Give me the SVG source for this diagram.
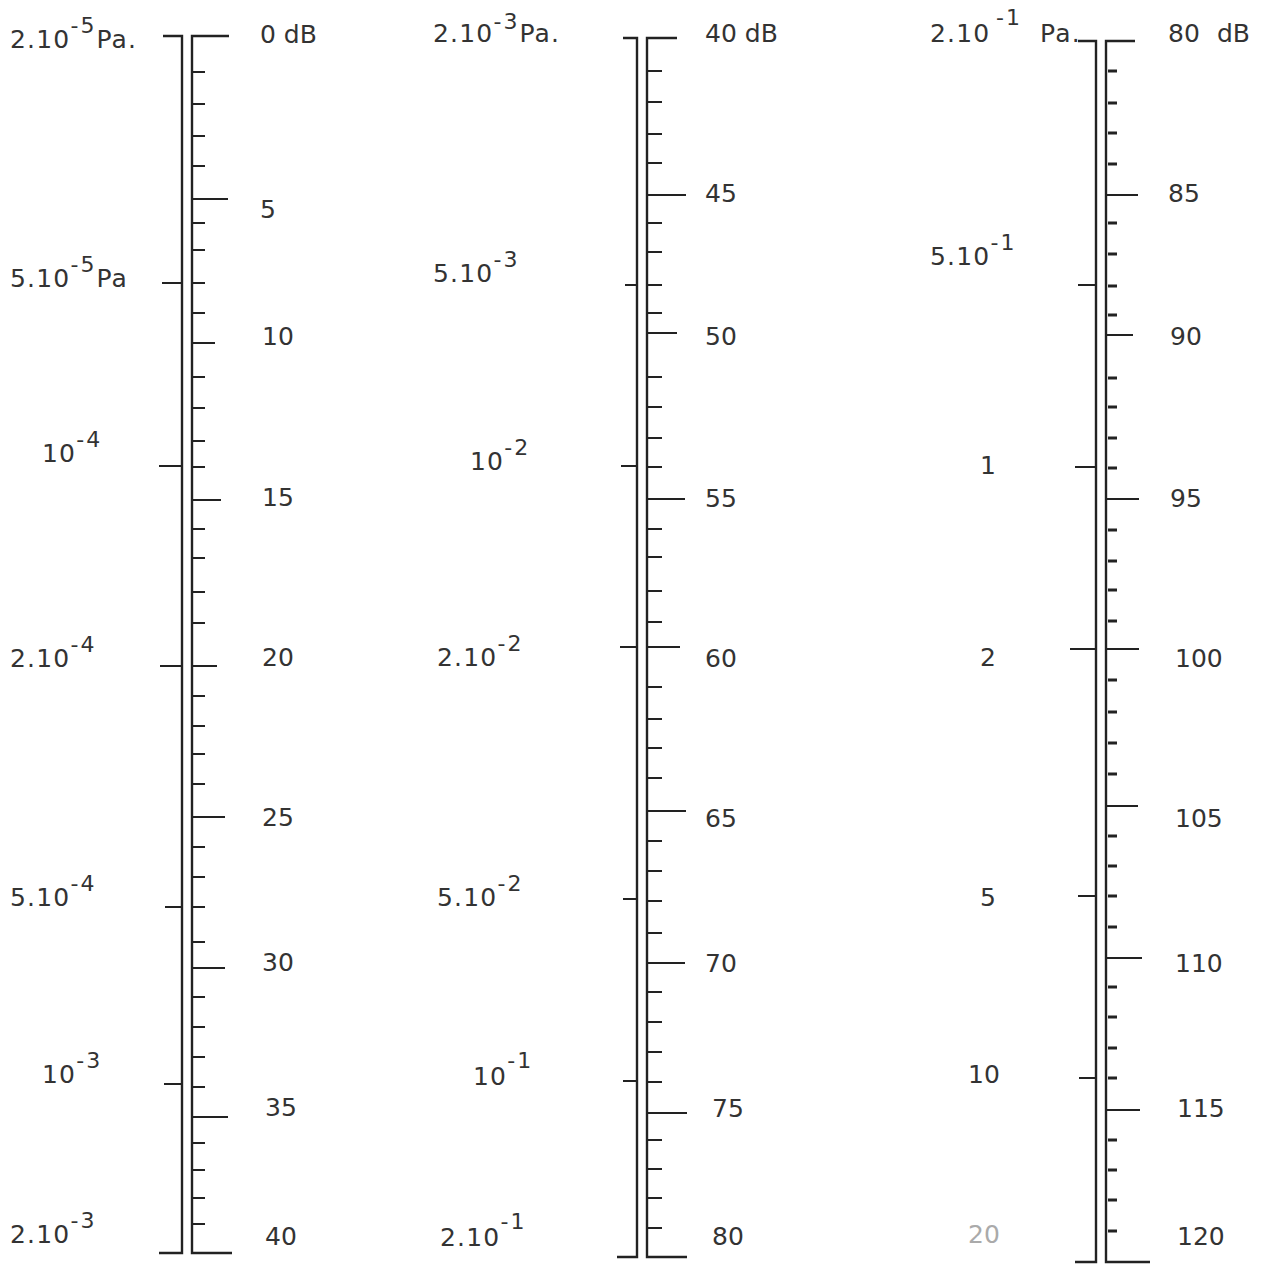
<svg xmlns="http://www.w3.org/2000/svg" width="1263" height="1264" viewBox="0 0 1263 1264">
<style>
.frame{fill:none;stroke:#222;stroke-width:2.4;stroke-linejoin:miter}
.tick{fill:none;stroke:#222;stroke-width:2}
.dash{fill:none;stroke:#222;stroke-width:3}
text{font-family:"DejaVu Sans","Liberation Sans",sans-serif;font-size:25px;fill:#333}
.pa{letter-spacing:1.2px}
.sup{font-size:22px;letter-spacing:2px}
.faint{fill:#aaa}
</style>
<rect width="1263" height="1264" fill="#fff"/>

<g id="scale-1">
<path class="frame" d="M163 36H182V1253H159M229 36H192V1253H232"/>
<path class="tick" d="M192 199H228M192 343H215M192 500H221M192 666H217M192 817H225M192 968H225M192 1117H228"/>
<path class="tick" d="M162 283H182M159 466H182M160 666H182M165 907H182M164 1084H182"/>
<path class="tick" d="M192 72H205M192 104H205M192 136H205M192 166H205M192 223H205M192 250H205M192 283H205M192 313H205M192 377H205M192 408H205M192 441H205M192 467H205M192 529H205M192 558H205M192 592H205M192 623H205M192 696H205M192 726H205M192 754H205M192 784H205M192 847H205M192 877H205M192 907H205M192 942H205M192 997H205M192 1027H205M192 1057H205M192 1087H205M192 1143H205M192 1170H205M192 1198H205M192 1224H205"/>
<text class="pa" x="10" y="48">2.10<tspan class="sup" dy="-15">-5</tspan><tspan dy="15">Pa.</tspan></text>
<text class="pa" x="10" y="287">5.10<tspan class="sup" dy="-15">-5</tspan><tspan dy="15">Pa</tspan></text>
<text class="pa" x="42" y="462">10<tspan class="sup" dy="-15">-4</tspan></text>
<text class="pa" x="10" y="667">2.10<tspan class="sup" dy="-15">-4</tspan></text>
<text class="pa" x="10" y="906">5.10<tspan class="sup" dy="-15">-4</tspan></text>
<text class="pa" x="42" y="1083">10<tspan class="sup" dy="-15">-3</tspan></text>
<text class="pa" x="10" y="1243">2.10<tspan class="sup" dy="-15">-3</tspan></text>
<text x="260" y="43">0 dB</text>
<text x="260" y="218">5</text>
<text x="262" y="345">10</text>
<text x="262" y="506">15</text>
<text x="262" y="666">20</text>
<text x="262" y="826">25</text>
<text x="262" y="971">30</text>
<text x="265" y="1116">35</text>
<text x="265" y="1245">40</text>
</g>

<g id="scale-2">
<path class="frame" d="M623 38H637V1257H617M677 38H647V1257H687"/>
<path class="tick" d="M647 195H686M647 333H677M647 499H685M647 647H680M647 811H686M647 963H685M647 1113H687"/>
<path class="tick" d="M625 285H637M621 466H637M620 647H637M623 899H637M623 1081H637"/>
<path class="tick" d="M647 71H662M647 102H662M647 134H662M647 163H662M647 223H662M647 252H662M647 285H662M647 313H662M647 377H662M647 407H662M647 438H662M647 467H662M647 529H662M647 557H662M647 591H662M647 622H662M647 687H662M647 719H662M647 748H662M647 778H662M647 841H662M647 871H662M647 901H662M647 933H662M647 992H662M647 1022H662M647 1052H662M647 1082H662M647 1140H662M647 1169H662M647 1198H662M647 1228H662"/>
<text class="pa" x="433" y="42">2.10<tspan class="sup" dy="-13">-3</tspan><tspan dy="13">Pa.</tspan></text>
<text class="pa" x="433" y="282">5.10<tspan class="sup" dy="-15">-3</tspan></text>
<text class="pa" x="470" y="470">10<tspan class="sup" dy="-15">-2</tspan></text>
<text class="pa" x="437" y="666">2.10<tspan class="sup" dy="-15">-2</tspan></text>
<text class="pa" x="437" y="906">5.10<tspan class="sup" dy="-15">-2</tspan></text>
<text class="pa" x="473" y="1085">10<tspan class="sup" dy="-17">-1</tspan></text>
<text class="pa" x="440" y="1246">2.10<tspan class="sup" dy="-17">-1</tspan></text>
<text x="705" y="42">40 dB</text>
<text x="705" y="202">45</text>
<text x="705" y="345">50</text>
<text x="705" y="507">55</text>
<text x="705" y="667">60</text>
<text x="705" y="827">65</text>
<text x="705" y="972">70</text>
<text x="712" y="1117">75</text>
<text x="712" y="1245">80</text>
</g>

<g id="scale-3">
<path class="frame" d="M1078 41H1096V1262H1075M1135 41H1106V1262H1150"/>
<path class="tick" d="M1106 195H1138M1106 335H1133M1106 499H1139M1106 649H1139M1106 806H1138M1106 958H1142M1106 1110H1140"/>
<path class="tick" d="M1078 285H1096M1075 467H1096M1070 649H1096M1078 896H1096M1079 1078H1096"/>
<path class="dash" d="M1108 71H1117M1108 103H1117M1108 133H1117M1108 164H1117M1108 223H1117M1108 254H1117M1108 286H1117M1108 315H1117M1108 378H1117M1108 407H1117M1108 438H1117M1108 468H1117M1108 530H1117M1108 561H1117M1108 590H1117M1108 621H1117M1108 680H1117M1108 712H1117M1108 743H1117M1108 774H1117M1108 836H1117M1108 866H1117M1108 896H1117M1108 927H1117M1108 987H1117M1108 1017H1117M1108 1048H1117M1108 1078H1117M1108 1140H1117M1108 1170H1117M1108 1200H1117M1108 1231H1117"/>
<text class="pa" x="930" y="42">2.10<tspan class="sup" dy="-17" x="996">-1</tspan><tspan x="1040" dy="17">Pa.</tspan></text>
<text class="pa" x="930" y="265">5.10<tspan class="sup" dy="-15">-1</tspan></text>
<text x="980" y="474">1</text>
<text x="980" y="666">2</text>
<text x="980" y="906">5</text>
<text x="968" y="1083">10</text>
<text x="968" y="1243" class="faint">20</text>
<text x="1168" y="42">80<tspan x="1217">dB</tspan></text>
<text x="1168" y="202">85</text>
<text x="1170" y="345">90</text>
<text x="1170" y="507">95</text>
<text x="1175" y="667">100</text>
<text x="1175" y="827">105</text>
<text x="1175" y="972">110</text>
<text x="1177" y="1117">115</text>
<text x="1177" y="1245">120</text>
</g>
</svg>
